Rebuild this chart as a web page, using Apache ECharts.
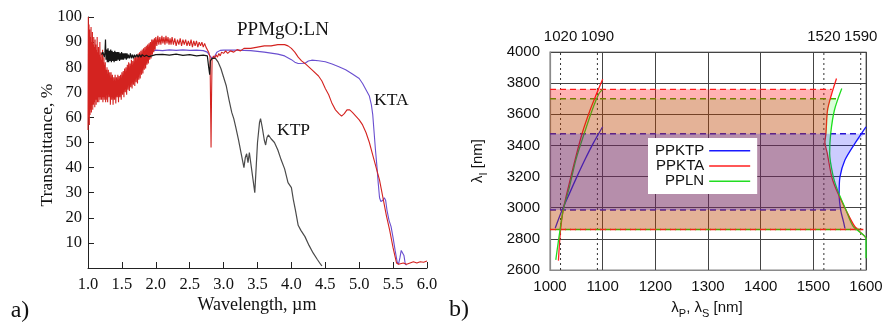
<!DOCTYPE html>
<html>
<head>
<meta charset="utf-8">
<script src="https://cdn.jsdelivr.net/npm/echarts@6/dist/echarts.min.js"></script>
<style>
  html, body { margin: 0; padding: 0; background: #fff; }
  #chart { width: 888px; height: 324px; }
</style>
</head>
<body>
<div id="chart"></div>
<script>
// ---------- a) transmittance spectra: [wavelength (µm), transmittance (%)] ----------
const lnSpectrum = [
  [1.000,55],[1.005,100],[1.010,60],[1.015,97],[1.020,57],[1.025,95],[1.030,61],[1.035,92],[1.040,63],[1.045,96],
  [1.050,62],[1.055,90],[1.060,65],[1.065,94],[1.070,63],[1.075,89],[1.080,65],[1.085,92],[1.090,66],[1.095,88],
  [1.100,64],[1.105,91],[1.110,67],[1.115,89],[1.120,65],[1.125,87],[1.130,67],[1.135,92],[1.140,66],[1.145,86],
  [1.150,68],[1.155,88],[1.160,66],[1.165,85],[1.170,68],[1.175,90],[1.180,67],[1.185,84],[1.190,68],[1.195,86],
  [1.200,67],[1.205,83],[1.210,68],[1.215,87],[1.220,66],[1.225,82],[1.230,68],[1.235,84],[1.240,67],[1.245,81],
  [1.250,68],[1.255,82],[1.260,66],[1.265,79],[1.270,67],[1.280,80],[1.290,66],[1.300,79],[1.310,68],[1.320,78],
  [1.330,65],[1.340,78],[1.350,67],[1.360,77],[1.370,65],[1.380,76],[1.390,67],[1.400,77],[1.410,65.5],[1.420,76],
  [1.430,68],[1.440,77],[1.450,66],[1.460,76.5],[1.470,68],[1.480,77],[1.490,67],[1.500,78],[1.510,69],[1.520,78.5],
  [1.530,68],[1.540,79.5],[1.550,70],[1.560,80],[1.570,69],[1.580,81],[1.590,71],[1.600,82],[1.610,70.5],[1.620,81.5],
  [1.630,72],[1.640,83],[1.650,71.5],[1.660,82.5],[1.670,73],[1.680,84],[1.690,72.5],[1.700,84],[1.710,74],[1.720,85],
  [1.730,73.5],[1.740,85.5],[1.750,75],[1.760,86],[1.770,75.5],[1.780,86.5],[1.790,77],[1.800,87],[1.810,77.5],[1.820,87.5],
  [1.830,79],[1.840,88],[1.850,79.5],[1.860,88.5],[1.870,81],[1.880,89],[1.890,81.5],[1.900,89.5],[1.910,83],[1.920,90],
  [1.930,83.5],[1.940,91],[1.950,85],[1.960,91],[1.970,86],[1.980,91.5],[1.990,87],[2.000,92],[2.015,88.5],[2.030,92.5],
  [2.045,89],[2.060,92],[2.075,89],[2.090,92.5],[2.105,89.5],[2.120,92],[2.135,89],[2.150,92.5],[2.165,89.5],[2.180,92],
  [2.195,89],[2.210,91.5],[2.225,89],[2.240,92],[2.260,89],[2.280,91.5],[2.300,88.5],[2.320,91],[2.340,89],[2.360,91.5],
  [2.380,88.5],[2.400,91],[2.420,89],[2.440,91],[2.460,88.5],[2.480,90.5],[2.500,88.5],[2.520,91],[2.540,88],[2.560,90.5],
  [2.580,88.5],[2.600,90.5],[2.620,88],[2.640,90],[2.660,88.5],[2.680,90],[2.700,88],[2.720,89.5],[2.740,88],[2.760,88.5],
  [2.780,86],[2.800,84],[2.808,65],[2.815,48],[2.822,68],[2.830,83],[2.850,84.5],[2.870,83.5],[2.890,85],[2.910,84],
  [2.930,85.5],[2.950,84.5],[2.970,86],[3.000,85.5],[3.030,86.5],[3.060,85.5],[3.100,86.5],[3.150,86],[3.200,87],[3.250,86.5],
  [3.300,87.5],[3.400,87.5],[3.500,88],[3.600,88.5],[3.700,88.5],[3.800,89],[3.900,89],[3.950,88.5],[4.000,87.5],[4.050,86],
  [4.100,84],[4.150,82.5],[4.200,81.5],[4.300,79],[4.400,76.5],[4.450,74.5],[4.500,71.5],[4.550,69],[4.600,65.5],[4.650,63],
  [4.700,61.5],[4.740,60.5],[4.780,61.5],[4.820,63],[4.860,63],[4.900,62],[4.950,60.5],[5.000,59],[5.050,57],[5.100,54],
  [5.150,50],[5.200,45],[5.250,40],[5.300,35],[5.350,28],[5.400,21],[5.450,15],[5.500,8],[5.550,2],[5.580,1.5],
  [5.650,2],[5.700,1.5],[5.750,2],[5.800,2.5],[5.850,2],[5.900,2.5],[5.950,2.3],[6.000,2.8]
];

const ktpSpectrum = [
  [1.200,85],[1.220,86],[1.240,84],[1.250,86],[1.258,91],[1.266,83],[1.275,87],[1.285,82],[1.295,87.5],[1.305,82],
  [1.315,86.5],[1.325,82.5],[1.335,87],[1.345,82],[1.355,86.5],[1.365,82.5],[1.375,86],[1.385,82],[1.395,86.5],[1.405,82.5],
  [1.415,86],[1.425,82.5],[1.435,86],[1.445,83],[1.455,86],[1.465,82.5],[1.475,85.5],[1.485,83],[1.495,86],[1.505,83],
  [1.515,85.5],[1.525,83],[1.535,85.5],[1.545,83.5],[1.555,85.5],[1.565,83],[1.575,85.5],[1.585,83.5],[1.595,85],[1.610,83.5],
  [1.625,85.5],[1.640,83.5],[1.655,85],[1.670,83.5],[1.685,85],[1.700,84],[1.720,85],[1.740,84],[1.760,85],[1.780,84],
  [1.800,85],[1.830,84.3],[1.860,84.8],[1.900,84.2],[1.950,84.6],[2.000,85],[2.100,85.1],[2.200,84.8],[2.300,85.2],[2.400,84.7],
  [2.500,85],[2.600,84.5],[2.700,84.8],[2.760,84.5],[2.780,80],[2.795,77],[2.805,82.5],[2.830,83.5],[2.880,83.5],[2.920,82],
  [2.960,79.5],[3.000,76],[3.040,72.5],[3.080,67],[3.120,62],[3.150,59.5],[3.180,56],[3.220,51],[3.260,45.5],[3.300,40],
  [3.320,44],[3.340,45.5],[3.360,42],[3.380,46],[3.400,42],[3.430,36],[3.460,30],[3.480,40],[3.500,50],[3.530,58],
  [3.545,59.5],[3.570,56],[3.600,51],[3.620,49],[3.640,52],[3.660,53],[3.700,51.5],[3.750,50],[3.800,47],[3.850,43],
  [3.900,39.5],[3.950,34],[4.000,32],[4.030,27],[4.060,23],[4.100,17],[4.140,15],[4.200,12.5],[4.260,9],[4.320,6],
  [4.380,3.5],[4.430,1.5],[4.450,0.8]
];

const ktaSpectrum = [
  [1.950,86.5],[2.000,86.8],[2.100,86.6],[2.200,86.9],[2.300,86.7],[2.400,86.9],[2.500,86.7],[2.600,86.8],[2.700,86.6],[2.760,86],
  [2.800,84.5],[2.830,83.5],[2.860,84],[2.900,86],[2.950,86.7],[3.000,86.8],[3.200,86.8],[3.400,86.6],[3.600,86],[3.800,85.2],
  [3.900,84.5],[4.000,83],[4.050,82],[4.100,81.5],[4.200,81.6],[4.250,82.5],[4.300,82.8],[4.400,82.6],[4.500,82.2],[4.600,81.3],
  [4.700,80.2],[4.800,79],[4.900,77.3],[5.000,75.5],[5.050,73.5],[5.100,71],[5.150,68.5],[5.180,65],[5.200,61],[5.220,54],
  [5.240,47],[5.260,41],[5.280,34],[5.300,28],[5.320,26.5],[5.350,27],[5.370,28],[5.390,27],[5.410,23],[5.440,19],
  [5.470,16.5],[5.500,12],[5.530,7],[5.560,2.5],[5.580,1.5],[5.600,4],[5.620,7],[5.645,7.5],[5.660,5],[5.680,1.5],[5.700,1.2]
];

// ---------- b) idler wavelength vs pump / signal wavelength: [λ (nm), λi (nm)] ----------
const guideWavelengths = [1020, 1090, 1520, 1590];

const ppktpPump   = [[1010,2870],[1023,2985],[1037,3092],[1051,3198],[1066,3306],[1082,3413],[1100,3520]];
const ppktpSignal = [[1600,3519],[1579,3413],[1560,3306],[1550.6,3198],[1549,3092],[1552,2985],[1558,2900],[1560,2867]];
const ppktaPump   = [[1016,2660],[1020,2857],[1025,2985],[1035,3134],[1047.5,3306],[1061,3477],[1076,3626],[1088.6,3733],[1100,3825]];
const ppktaSignal = [[1544,3830],[1535,3733],[1527,3626],[1524,3477],[1522,3420],[1526.6,3348],[1535,3198],[1544,3113],[1562,2985],[1579,2878],[1598,2814],[1600,2800]];
const pplnPump    = [[1011,2665],[1019,2857],[1025,2985],[1037,3134],[1049,3306],[1065,3477],[1080,3626],[1093,3733],[1100,3760]];
const pplnSignal  = [[1554,3765],[1540,3626],[1533,3477],[1531,3348],[1538,3198],[1546,3113],[1562,2985],[1576,2878],[1600,2800],[1600,2675]];

// idler tuning ranges [lower, upper] and where their dashed edges stop on the signal side
const ppktpBand = [2985, 3475], ppktpBandEnds = [1552, 1598];
const ppktaBand = [2860, 3760], ppktaBandEnds = [1595, 1535];
const pplnBand  = [2860, 3700], pplnBandEnds  = [1595, 1544];

const X0 = 1000, X1 = 1600;

const chart = echarts.init(document.getElementById('chart'), null, { renderer: 'canvas' });

const SERIF = '"Liberation Serif", "Times New Roman", serif';
const SANS = '"Liberation Sans", Arial, sans-serif';

// polygon bounded by the left border, the two band edges and the signal-side curve
function bandPolygon(band, ends, curve) {
  const inside = curve.filter(p => p[1] > band[0] && p[1] < band[1]);
  return [[X0, band[0]], [X0, band[1]], [ends[1], band[1]]].concat(inside, [[ends[0], band[0]]]);
}

function fillSeries(band, ends, curve, color, z) {
  const poly = bandPolygon(band, ends, curve);
  return {
    type: 'custom', xAxisIndex: 1, yAxisIndex: 1, z: z, silent: true,
    data: [[X0, band[0]]],
    renderItem: (params, api) => ({
      type: 'polygon',
      shape: { points: poly.map(p => api.coord(p)), smooth: 0 },
      style: { fill: color, stroke: null }
    })
  };
}

function curveSeries(name, data, color) {
  return {
    name: name, type: 'line', xAxisIndex: 1, yAxisIndex: 1, z: 2,
    data: data, showSymbol: false, symbol: 'none', smooth: 0.3,
    lineStyle: { color: color, width: 1.3 }, itemStyle: { color: color }
  };
}

function edgeSeries(value, xEnd, color, offset) {
  return {
    type: 'line', xAxisIndex: 1, yAxisIndex: 1, z: 2, silent: true,
    data: [[X0, value], [xEnd, value]], showSymbol: false, symbol: 'none',
    lineStyle: { color: color, width: 1.4, type: [6, 4], dashOffset: offset || 0 }
  };
}

function guideSeries(x) {
  return {
    type: 'line', xAxisIndex: 1, yAxisIndex: 1, z: 1, silent: true,
    data: [[x, 2600], [x, 4000]], showSymbol: false, symbol: 'none',
    lineStyle: { color: '#333', width: 1, type: [2, 3] }
  };
}

function spectrumSeries(data, color, z, width) {
  return {
    type: 'line', xAxisIndex: 0, yAxisIndex: 0, z: z, silent: true,
    data: data, showSymbol: false, symbol: 'none',
    lineStyle: { color: color, width: width || 1.1 }
  };
}

const RED = '#ff1f1f', GREEN = '#22dd22', BLUE = '#1a1aff';
const plain = v => String(v);

// KTP trace: black across the noisy plateau, grey along its absorption edge
const ktpStroke = new echarts.graphic.LinearGradient(0, 0, 1, 0, [
  { offset: 0, color: '#151515' }, { offset: 0.5, color: '#151515' },
  { offset: 0.53, color: '#4a4a4a' }, { offset: 1, color: '#4a4a4a' }
]);

const option = {
  animation: false,
  backgroundColor: '#fff',
  textStyle: { fontFamily: SANS },
  grid: [
    { left: 88, right: 461, top: 17, bottom: 56 },
    { left: 550, right: 22, top: 52, bottom: 54, show: true, borderColor: '#8a8a8a', borderWidth: 1.2, backgroundColor: 'transparent' }
  ],
  xAxis: [
    {
      gridIndex: 0, type: 'value', min: 1, max: 6, interval: 0.5,
      axisLine: { lineStyle: { color: '#222', width: 1 } },
      axisTick: { inside: true, length: 6, lineStyle: { color: '#222' } },
      axisLabel: { formatter: v => v.toFixed(1), fontFamily: SERIF, fontSize: 16.5, color: '#111', margin: 8 },
      splitLine: { show: false }
    },
    {
      gridIndex: 1, type: 'value', min: X0, max: X1, interval: 100,
      axisLine: { lineStyle: { color: '#8a8a8a', width: 1.2 } },
      axisTick: { show: false },
      axisLabel: { formatter: plain, fontFamily: SANS, fontSize: 15, color: '#111', margin: 9 },
      splitLine: { show: true, lineStyle: { color: '#444', width: 1 } }
    },
    {
      gridIndex: 1, type: 'value', min: X0, max: X1, position: 'top',
      axisLine: { show: false }, axisTick: { show: false }, splitLine: { show: false },
      axisLabel: { customValues: guideWavelengths, formatter: plain, hideOverlap: false, fontFamily: SANS, fontSize: 15, color: '#111', margin: 8 }
    }
  ],
  yAxis: [
    {
      gridIndex: 0, type: 'value', min: 0, max: 100, interval: 10,
      axisLine: { show: true, lineStyle: { color: '#222', width: 1 } },
      axisTick: { show: true, inside: true, length: 6, lineStyle: { color: '#222' } },
      axisLabel: { formatter: v => (v === 0 ? '' : String(v)), fontFamily: SERIF, fontSize: 16.5, color: '#111', margin: 6 },
      splitLine: { show: false }
    },
    {
      gridIndex: 1, type: 'value', min: 2600, max: 4000, interval: 200,
      axisLine: { show: true, lineStyle: { color: '#8a8a8a', width: 1.2 } },
      axisTick: { show: false },
      axisLabel: { formatter: plain, fontFamily: SANS, fontSize: 15, color: '#111', margin: 10 },
      splitLine: { show: true, lineStyle: { color: '#444', width: 1 } }
    }
  ],
  legend: {
    data: ['PPKTP', 'PPKTA', 'PPLN'],
    orient: 'vertical', align: 'right',
    left: 648, top: 138,
    padding: [5, 7, 5, 7],
    backgroundColor: '#fff',
    icon: 'rect', itemWidth: 41, itemHeight: 1.5, itemGap: 0,
    selectedMode: false, z: 10,
    textStyle: { fontFamily: SANS, fontSize: 15, color: '#111', lineHeight: 15.3 }
  },
  series: [
    // a) spectra
    spectrumSeries(ktaSpectrum, '#6a4fd0', 2, 1.1),
    spectrumSeries(lnSpectrum, '#d42320', 3, 1.1),
    spectrumSeries(ktpSpectrum, ktpStroke, 4, 1.2),

    // b) guides, band edges, tuning curves, shaded tuning ranges
    ...guideWavelengths.map(guideSeries),
    edgeSeries(pplnBand[1], pplnBandEnds[1], '#44b000'),
    edgeSeries(pplnBand[0], pplnBandEnds[0], '#44b000', 5),
    edgeSeries(ppktaBand[1], ppktaBandEnds[1], RED),
    edgeSeries(ppktaBand[0], ppktaBandEnds[0], RED),
    edgeSeries(ppktpBand[1], ppktpBandEnds[1], '#2a14d0'),
    edgeSeries(ppktpBand[0], ppktpBandEnds[0], '#2a14d0'),
    curveSeries('PPKTP', ppktpPump, BLUE),
    curveSeries('PPKTP', ppktpSignal, BLUE),
    curveSeries('PPKTA', ppktaPump, RED),
    curveSeries('PPKTA', ppktaSignal, RED),
    curveSeries('PPLN', pplnPump, GREEN),
    curveSeries('PPLN', pplnSignal, GREEN),
    fillSeries(pplnBand, pplnBandEnds, pplnSignal, 'rgba(0,255,0,0.15)', 3),
    fillSeries(ppktaBand, ppktaBandEnds, ppktaSignal, 'rgba(255,0,0,0.3)', 4),
    fillSeries(ppktpBand, ppktpBandEnds, ppktpSignal, 'rgba(0,0,255,0.2)', 5)
  ],
  graphic: [
    { type: 'text', x: 237, y: 30, style: { text: 'PPMgO:LN', font: '19px ' + SERIF, fill: '#111', align: 'left', verticalAlign: 'middle' } },
    { type: 'text', x: 374, y: 100, style: { text: 'KTA', font: '17.5px ' + SERIF, fill: '#111', align: 'left', verticalAlign: 'middle' } },
    { type: 'text', x: 277, y: 130, style: { text: 'KTP', font: '17.5px ' + SERIF, fill: '#111', align: 'left', verticalAlign: 'middle' } },
    { type: 'text', x: 47, y: 145, rotation: Math.PI / 2, style: { text: 'Transmittance, %', font: '17.5px ' + SERIF, fill: '#111', align: 'center', verticalAlign: 'middle' } },
    { type: 'text', x: 257, y: 305, style: { text: 'Wavelength, µm', font: '18px ' + SERIF, fill: '#111', align: 'center', verticalAlign: 'middle' } },
    { type: 'text', x: 20, y: 311, style: { text: 'a)', font: '24px ' + SERIF, fill: '#111', align: 'center', verticalAlign: 'middle' } },
    { type: 'text', x: 459, y: 310, style: { text: 'b)', font: '24px ' + SERIF, fill: '#111', align: 'center', verticalAlign: 'middle' } },
    {
      type: 'text', x: 478, y: 161, rotation: Math.PI / 2,
      style: {
        text: '{a|λ}{s|I}{a| [nm]}', align: 'center', verticalAlign: 'middle', fill: '#111',
        rich: {
          a: { fontFamily: SANS, fontSize: 15, lineHeight: 22, fill: '#111' },
          s: { fontFamily: SANS, fontSize: 11, lineHeight: 12, verticalAlign: 'bottom', fill: '#111' }
        }
      }
    },
    {
      type: 'text', x: 707, y: 308,
      style: {
        text: '{a|λ}{s|P}{a|, λ}{s|S}{a| [nm]}', align: 'center', verticalAlign: 'middle', fill: '#111',
        rich: {
          a: { fontFamily: SANS, fontSize: 15, lineHeight: 22, fill: '#111' },
          s: { fontFamily: SANS, fontSize: 11, lineHeight: 12, verticalAlign: 'bottom', fill: '#111' }
        }
      }
    }
  ]
};

chart.setOption(option);
</script>
</body>
</html>
